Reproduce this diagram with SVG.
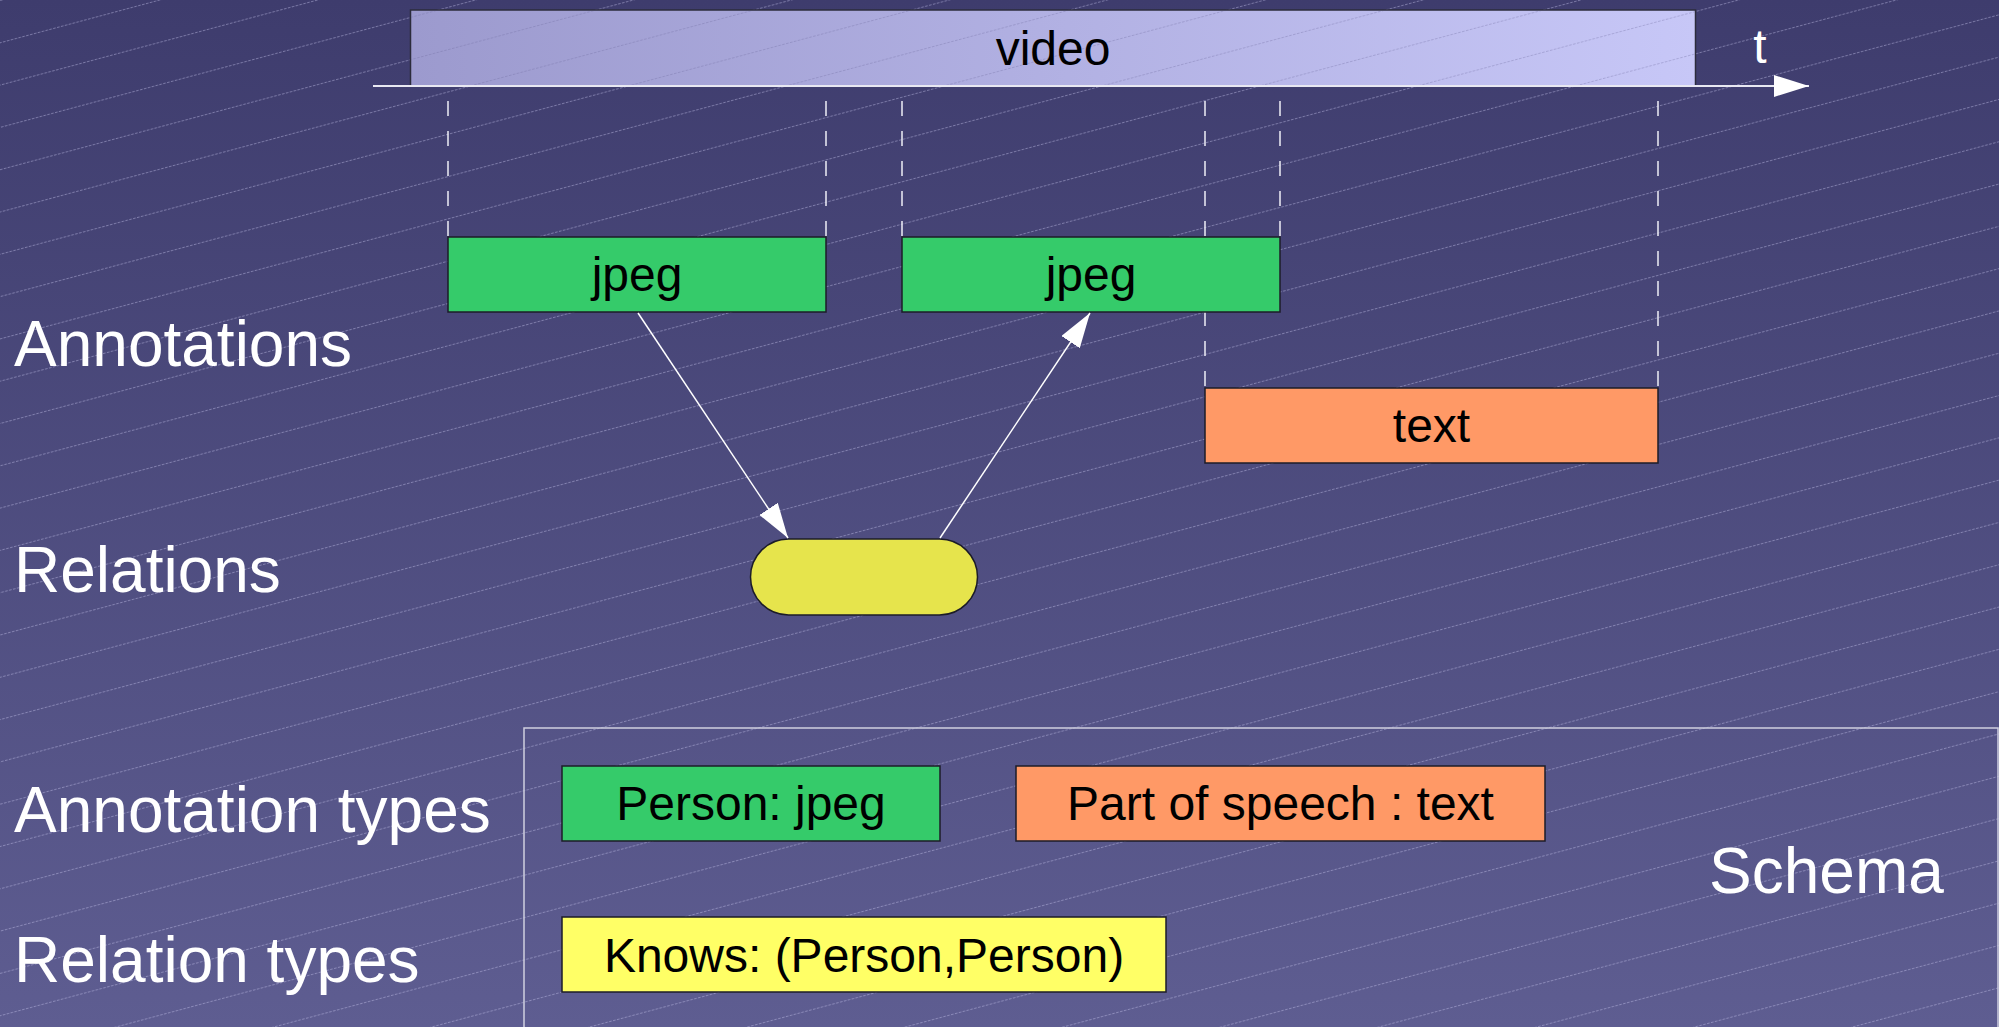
<svg xmlns="http://www.w3.org/2000/svg" width="1999" height="1027" viewBox="0 0 1999 1027">
  <defs>
    <linearGradient id="bg" x1="0" y1="0" x2="0" y2="1">
      <stop offset="0" stop-color="#3e3c6d"/>
      <stop offset="1" stop-color="#5e5d91"/>
    </linearGradient>
    <linearGradient id="videoFill" x1="0" y1="0" x2="1" y2="0">
      <stop offset="0" stop-color="#9c9ace"/>
      <stop offset="1" stop-color="#c7c7f7"/>
    </linearGradient>
    <!-- fine dashed diagonal rules, 15 degrees -->
    <pattern id="rules" patternUnits="userSpaceOnUse" width="4" height="40.86" patternTransform="rotate(-15)">
      <rect x="0" y="0" width="2.6" height="1" fill="#c4c2ea" fill-opacity="0.45"/>
    </pattern>
    <pattern id="rulesDark" patternUnits="userSpaceOnUse" width="4" height="40.86" patternTransform="rotate(-15)">
      <rect x="0" y="0" width="2.6" height="1" fill="#6f6da0" fill-opacity="0.35"/>
    </pattern>
    <marker id="head" viewBox="0 0 35 22" refX="35" refY="11" markerWidth="35" markerHeight="22" markerUnits="userSpaceOnUse" orient="auto">
      <path d="M0,0 L35,11 L0,22 Z" fill="#ffffff"/>
    </marker>
  </defs>
  <style>
    .lbl { font-family: "Liberation Sans", Arial, sans-serif; font-size: 64px; fill: #ffffff; }
    .box { stroke: #1c1c28; stroke-width: 1.5; }
    .boxtxt { font-family: "Liberation Sans", Arial, sans-serif; font-size: 48px; fill: #000000; text-anchor: middle; }
    .guide { stroke: #eeeef6; stroke-width: 1.5; stroke-dasharray: 15 15; fill: none; }
    .link { stroke: #ffffff; stroke-width: 1.5; fill: none; marker-end: url(#head); }
    .green { fill: #35cb6a; }
    .orange { fill: #ff9966; }
  </style>

  <!-- backdrop -->
  <rect x="0" y="0" width="1999" height="1027" fill="url(#bg)"/>
  <rect x="0" y="0" width="1999" height="1027" fill="url(#rules)"/>

  <!-- side labels -->
  <g id="labels">
    <text class="lbl" x="14" y="366">Annotations</text>
    <text class="lbl" x="14" y="592">Relations</text>
    <text class="lbl" x="14" y="832">Annotation types</text>
    <text class="lbl" x="14" y="982">Relation types</text>
  </g>

  <!-- media timeline -->
  <g id="video">
    <rect x="410.5" y="10" width="1285" height="76" fill="url(#videoFill)" stroke="#2c2c3c" stroke-width="1.5"/>
    <rect x="411" y="11" width="1284" height="74" fill="url(#rulesDark)"/>
    <text class="boxtxt" x="1053" y="65">video</text>
  </g>
  <g id="time-axis">
    <line x1="373" y1="86" x2="1809" y2="86" stroke="#e8e8f2" stroke-width="2" marker-end="url(#head)"/>
    <text class="lbl" x="1760" y="63" font-size="48" text-anchor="middle" style="font-size:48px">t</text>
  </g>

  <!-- time guides from the axis down to each annotation -->
  <g id="guides">
    <line class="guide" x1="448" y1="101" x2="448" y2="237"/>
    <line class="guide" x1="826" y1="101" x2="826" y2="237"/>
    <line class="guide" x1="902" y1="101" x2="902" y2="237"/>
    <line class="guide" x1="1280" y1="101" x2="1280" y2="237"/>
    <line class="guide" x1="1205" y1="101" x2="1205" y2="388"/>
    <line class="guide" x1="1658" y1="101" x2="1658" y2="388"/>
  </g>

  <!-- annotations -->
  <g id="jpeg-1">
    <rect class="box green" x="448" y="237" width="378" height="75"/>
    <text class="boxtxt" x="637" y="291">jpeg</text>
  </g>
  <g id="jpeg-2">
    <rect class="box green" x="902" y="237" width="378" height="75"/>
    <text class="boxtxt" x="1091" y="291">jpeg</text>
  </g>
  <g id="text-annotation">
    <rect class="box orange" x="1205" y="388" width="453" height="75"/>
    <text class="boxtxt" x="1431.5" y="442">text</text>
  </g>

  <!-- relation -->
  <g id="relation">
    <rect class="box" x="750.5" y="539" width="227" height="76" rx="38" ry="38" fill="#e6e44c"/>
  </g>

  <g id="connectors">
    <line class="link" x1="638" y1="313" x2="788" y2="538"/>
    <line class="link" x1="940" y1="538" x2="1090" y2="313"/>
  </g>

  <!-- schema -->
  <g id="schema">
    <rect x="524" y="728" width="1474" height="330" fill="none" stroke="#cfcfe0" stroke-width="1.5"/>
    <text class="lbl" x="1709" y="893">Schema</text>
  </g>
  <g id="person-type">
    <rect class="box green" x="562" y="766" width="378" height="75"/>
    <text class="boxtxt" x="751" y="820">Person: jpeg</text>
  </g>
  <g id="pos-type">
    <rect class="box orange" x="1016" y="766" width="529" height="75"/>
    <text class="boxtxt" x="1280.5" y="820">Part of speech : text</text>
  </g>
  <g id="knows-type">
    <rect class="box" x="562" y="917" width="604" height="75" fill="#ffff66"/>
    <text class="boxtxt" x="864" y="972">Knows: (Person,Person)</text>
  </g>
</svg>
